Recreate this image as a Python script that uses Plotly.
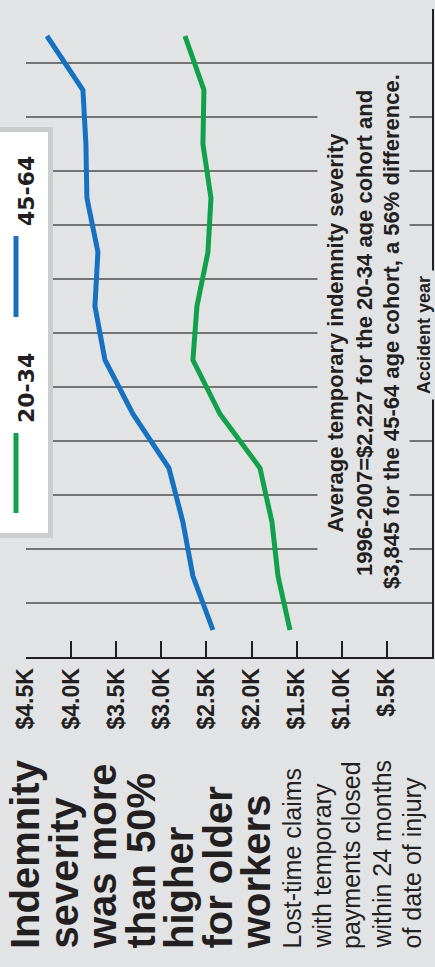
import plotly.graph_objects as go

# Accident years and average temporary indemnity severity ($) per age cohort
years = [1996, 1997, 1998, 1999, 2000, 2001, 2002, 2003, 2004, 2005, 2006, 2007]
sev_20_34 = [1574, 1707, 1774, 1907, 2350, 2650, 2605, 2483, 2450, 2539, 2528, 2738]
sev_45_64 = [2428, 2650, 2761, 2916, 3315, 3625, 3736, 3703, 3825, 3836, 3869, 4268]

tick_vals = [4500, 4000, 3500, 3000, 2500, 2000, 1500, 1000, 500, 0]
tick_text = ["$4.5K", "$4.0K", "$3.5K", "$3.0K", "$2.5K", "$2.0K", "$1.5K", "$1.0K", "$.5K", "0"]

title_lines = ["Indemnity", "severity", "was more", "than 50%", "higher", "for older", "workers"]
subtitle_lines = ["Lost-time claims", "with temporary", "payments closed",
                  "within 24 months", "of date of injury"]
note_lines = ["Average temporary indemnity severity",
              "1996-2007=$2,227 for the 20-34 age cohort and",
              "$3,845 for the 45-64 age cohort, a 56% difference."]

BLUE = "#1672c0"
GREEN = "#10a14a"
BG = "#e2e3e5"
INK = "#231f20"
GRID = "#727272"

W, H = 435, 967
L, R, T, B = 26, 3, 9, 310
PW, PH = W - L - R, H - T - B


def px_x(px):
    return (px - L) / PW


def px_y(py):
    return (H - B - py) / PH


fig = go.Figure()
fig.add_trace(go.Scatter(x=sev_45_64, y=years, mode="lines", name="45-64",
                         line=dict(color=BLUE, width=5), hoverinfo="skip"))
fig.add_trace(go.Scatter(x=sev_20_34, y=years, mode="lines", name="20-34",
                         line=dict(color=GREEN, width=5), hoverinfo="skip"))

BOLD = dict(family="Liberation Sans", weight="bold", color=INK)

# rotated headline
for i, line in enumerate(title_lines):
    fig.add_annotation(text=line, x=px_x(25 + 38.5 * i), y=px_y(951),
                       xref="paper", yref="paper", xanchor="center", yanchor="bottom",
                       textangle=-90, showarrow=False,
                       font=dict(BOLD, size=40))

# rotated sub-headline
for i, line in enumerate(subtitle_lines):
    fig.add_annotation(text=line, x=px_x(291 + 30 * i), y=px_y(951),
                       xref="paper", yref="paper", xanchor="center", yanchor="bottom",
                       textangle=-90, showarrow=False,
                       font=dict(family="Liberation Sans", size=25, color=INK))

# note block, with a background that breaks the grid lines behind it
fig.add_annotation(text="<br>".join(note_lines[:2]), x=px_x(350), y=px_y(333),
                   xref="paper", yref="paper", xanchor="center", yanchor="middle",
                   textangle=-90, showarrow=False, align="center",
                   bgcolor=BG, borderpad=5, font=dict(BOLD, size=22))
fig.add_annotation(text=note_lines[2], x=px_x(391), y=px_y(332),
                   xref="paper", yref="paper", xanchor="center", yanchor="middle",
                   textangle=-90, showarrow=False,
                   bgcolor=BG, borderpad=5, font=dict(BOLD, size=22))

# category axis title sitting on the axis line
fig.add_annotation(text="Accident year", x=px_x(424), y=px_y(335),
                   xref="paper", yref="paper", xanchor="center", yanchor="middle",
                   textangle=-90, showarrow=False,
                   bgcolor=BG, borderpad=5, font=dict(BOLD, size=18))

# legend panel
fig.add_shape(type="rect", xref="paper", yref="paper",
              x0=px_x(-5), x1=px_x(50.5), y0=px_y(535.5), y1=px_y(129.5),
              fillcolor="white", line=dict(color="#cbccce", width=5), layer="above")
fig.add_shape(type="line", xref="paper", yref="paper",
              x0=px_x(16), x1=px_x(16), y0=px_y(317), y1=px_y(236),
              line=dict(color=BLUE, width=5), layer="above")
fig.add_shape(type="line", xref="paper", yref="paper",
              x0=px_x(16), x1=px_x(16), y0=px_y(513), y1=px_y(433),
              line=dict(color=GREEN, width=5), layer="above")
for name, yc in [("45-64", 191), ("20-34", 388)]:
    fig.add_annotation(text=name, x=px_x(26), y=px_y(yc),
                       xref="paper", yref="paper", xanchor="center", yanchor="middle",
                       textangle=-90, showarrow=False,
                       font=dict(family="DejaVu Sans", weight="bold", size=22, color=INK))

fig.update_layout(
    width=W, height=H,
    margin=dict(l=L, r=R, t=T, b=B, pad=0),
    paper_bgcolor=BG, plot_bgcolor=BG,
    showlegend=False,
    xaxis=dict(range=[4500, 0], tickmode="array", tickvals=tick_vals, ticktext=tick_text,
               tickangle=-90, ticks="inside", ticklen=16, tickwidth=2, tickcolor=INK,
               showline=True, linecolor=INK, linewidth=2, showgrid=False, zeroline=False,
               tickfont=dict(family="Liberation Sans", weight="bold", size=23, color=INK),
               fixedrange=True),
    yaxis=dict(range=[1995.5, 2007.5], tickmode="linear", tick0=1995.5, dtick=1,
               showticklabels=False, ticks="", side="right",
               showline=True, linecolor=INK, linewidth=2,
               showgrid=True, gridcolor=GRID, gridwidth=2, zeroline=False,
               fixedrange=True),
)

fig.write_html("out.html", config={"displayModeBar": False})
